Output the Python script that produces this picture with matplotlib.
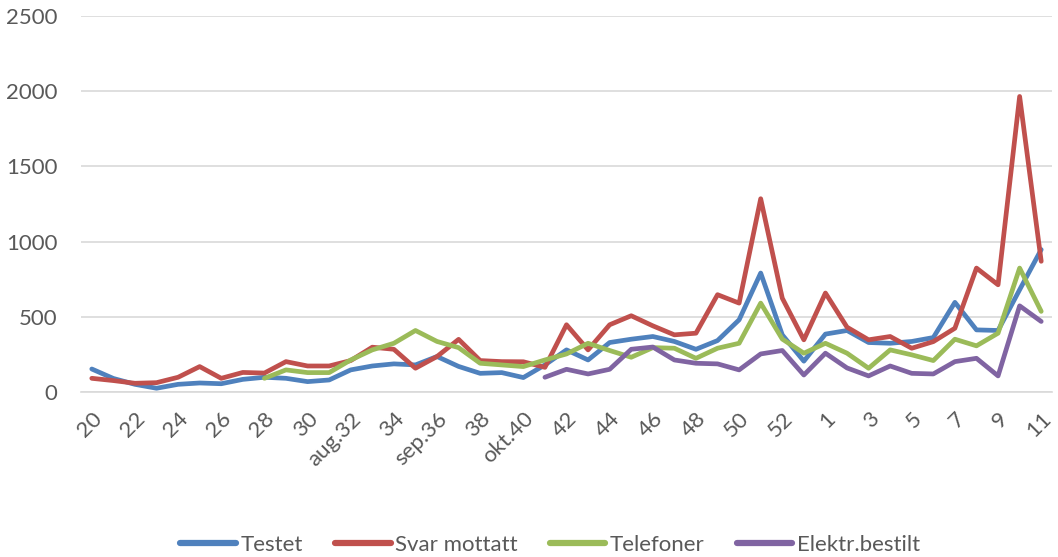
import numpy as np
import matplotlib
matplotlib.use("Agg")
import matplotlib.pyplot as plt

weeks = [str(w) for w in range(20, 54)] + [str(w) for w in range(1, 12)]
weeks[weeks.index("32")] = "aug.32"
weeks[weeks.index("36")] = "sep.36"
weeks[weeks.index("40")] = "okt.40"

testet = [153, 90, 51, 25, 51, 60, 55, 84, 98, 91, 69, 80, 147, 173, 187, 180,
          236, 170, 124, 129, 96, 180, 280, 213, 329, 351, 369, 336, 284, 342,
          480, 791, 380, 205, 385, 409, 329, 324, 336, 362, 596, 413, 409, 680, 947]
svar = [91, 76, 58, 62, 98, 169, 91, 130, 126, 202, 173, 173, 209, 298, 284, 158,
        236, 350, 209, 202, 201, 164, 447, 280, 447, 507, 440, 380, 391, 647,
        591, 1285, 624, 347, 658, 431, 347, 369, 291, 335, 424, 824, 713, 1965, 869]
telefoner = [None] * 8 + [91, 147, 129, 129, 213, 280, 324, 409, 336, 295, 191, 180,
                          169, 213, 253, 324, 276, 231, 295, 291, 224, 291, 324, 591,
                          352, 258, 324, 258, 158, 280, 247, 209, 351, 307, 391, 824, 536]
elektr = [None] * 21 + [98, 151, 120, 151, 284, 299, 213, 191, 187, 147, 253, 276,
                        113, 258, 160, 107, 173, 124, 120, 202, 224, 107, 573, 469]

series = [("Testet", testet, "#4F81BD"),
          ("Svar mottatt", svar, "#C0504D"),
          ("Telefoner", telefoner, "#9BBB59"),
          ("Elektr.bestilt", elektr, "#8064A2")]

plt.rcParams['font.family'] = ['Lato', 'DejaVu Sans']

fig = plt.figure(figsize=(10.58, 5.57), dpi=100)
left_px, right_px = 81, 1052
ax = fig.add_axes([left_px / 1058, 1 - 392 / 557, (right_px - left_px) / 1058, (392 - 16) / 557])

x = np.arange(len(weeks))
for name, vals, col in series:
    y = np.array([np.nan if v is None else v for v in vals], dtype=float)
    ax.plot(x, y, color=col, lw=3.4, solid_capstyle='round', solid_joinstyle='round',
            label=name, zorder=3, clip_on=False)

ax.set_xlim(-0.5, len(weeks) - 0.5)
ax.set_ylim(0, 2500)
ax.set_yticks(range(0, 2501, 500))
ax.yaxis.grid(True, color="#D9D9D9", lw=1.2, zorder=0)
ax.set_axisbelow(True)
for s in ["top", "right", "left"]:
    ax.spines[s].set_visible(False)
ax.spines["bottom"].set_color("#D9D9D9")
ax.spines["bottom"].set_linewidth(1.2)
ax.tick_params(axis="both", length=0, colors="#595959", labelsize=16)
ax.tick_params(axis="y", pad=17)
ax.set_xticks(x[::2])
ax.set_xticklabels(weeks[::2], rotation=45, ha="right", rotation_mode="anchor")
ax.tick_params(axis="x", pad=12)

leg = fig.legend(loc="center", bbox_to_anchor=(0.52, 0.022), ncol=4, frameon=False,
                 fontsize=16, handlelength=2.5, handletextpad=0.2, columnspacing=1.45,
                 labelcolor="#595959")
for h in leg.get_lines():
    h.set_linewidth(4.5)

fig.savefig("out.png", dpi=100)
